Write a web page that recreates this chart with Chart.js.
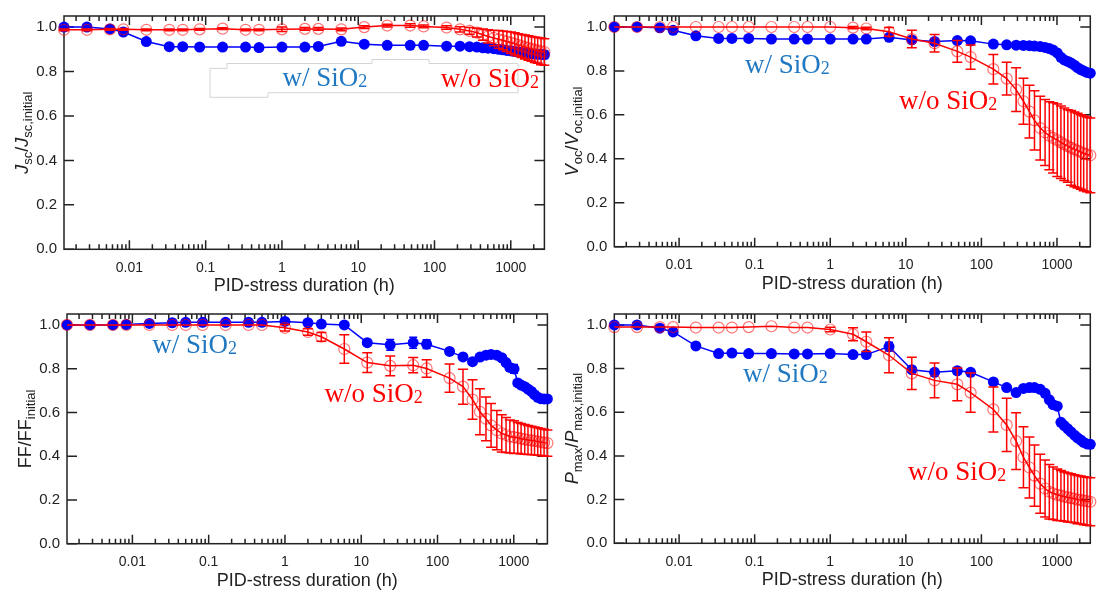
<!DOCTYPE html>
<html>
<head>
<meta charset="utf-8">
<script src="https://cdn.jsdelivr.net/npm/chart.js@4.4.1/dist/chart.umd.min.js"></script>
<style>
  html, body { margin: 0; padding: 0; background: #fff; }
  #wrap { position: relative; width: 1097px; height: 598px; overflow: hidden; }
  canvas { position: absolute; }
</style>
</head>
<body>
<div id="wrap">
  <canvas id="jsc" width="560" height="298" style="left:0;top:0"></canvas>
  <canvas id="voc" width="537" height="298" style="left:560px;top:0"></canvas>
  <canvas id="ff" width="560" height="300" style="left:0;top:298px"></canvas>
  <canvas id="pmax" width="537" height="300" style="left:560px;top:298px"></canvas>
</div>
<script>
// PID-stress time points (h)
const times = [0.0013889, 0.0027778, 0.0055556, 0.0083333, 0.0166667, 0.0333333, 0.05, 0.0833333, 0.1666667, 0.3333333, 0.5,
  1, 2, 3, 6, 12, 24, 48, 72, 144,
  216, 288, 360, 432, 504, 600, 696, 792, 888, 1008, 1128, 1248, 1392, 1536, 1704, 1872, 2064, 2256, 2496, 2760];

// Jsc / Jsc,initial
const jscW = [1.0, 1.0, 0.992, 0.978, 0.935, 0.912, 0.912, 0.91, 0.91, 0.91, 0.908,
  0.91, 0.91, 0.913, 0.936, 0.923, 0.918, 0.918, 0.918, 0.914,
  0.914, 0.912, 0.91, 0.907, 0.905, 0.903, 0.9, 0.898, 0.895, 0.893, 0.89, 0.888, 0.886, 0.884, 0.882, 0.88, 0.879, 0.878, 0.877, 0.876];
const jscWErr = [0, 0, 0, 0, 0, 0, 0, 0, 0, 0, 0,
  0, 0, 0, 0, 0.004, 0.004, 0.004, 0.004, 0.005,
  0.006, 0.006, 0.007, 0.008, 0.008, 0.009, 0.01, 0.01, 0.011, 0.012, 0.012, 0.013, 0.014, 0.014, 0.015, 0.015, 0.016, 0.016, 0.017, 0.017];
const jscWo = [0.988, 0.988, 0.99, 0.99, 0.988, 0.988, 0.988, 0.99, 0.993, 0.988, 0.988,
  0.99, 0.992, 0.992, 0.99, 1.0, 1.007, 1.007, 1.003, 0.998,
  0.99, 0.983, 0.975, 0.966, 0.958, 0.951, 0.945, 0.94, 0.935, 0.93, 0.925, 0.92, 0.915, 0.91, 0.906, 0.902, 0.898, 0.895, 0.891, 0.888];
const jscWoErr = [0.004, 0.004, 0.004, 0.004, 0.004, 0.004, 0.004, 0.004, 0.004, 0.004, 0.004,
  0.01, 0.006, 0.006, 0.006, 0.006, 0.006, 0.008, 0.006, 0.008,
  0.012, 0.015, 0.02, 0.025, 0.03, 0.035, 0.04, 0.042, 0.045, 0.048, 0.05, 0.05, 0.052, 0.054, 0.055, 0.056, 0.057, 0.058, 0.06, 0.06];

// Voc / Voc,initial
const vocW = [1.0, 1.0, 0.996, 0.985, 0.96, 0.948, 0.948, 0.948, 0.945, 0.945, 0.945,
  0.945, 0.945, 0.945, 0.953, 0.941, 0.934, 0.938, 0.937, 0.922,
  0.919, 0.917, 0.916, 0.915, 0.913, 0.911, 0.907, 0.902, 0.895, 0.882, 0.862, 0.85, 0.843, 0.836, 0.826, 0.815, 0.806, 0.8, 0.793, 0.79];
const vocWErr = [0, 0, 0, 0, 0, 0, 0, 0, 0, 0, 0,
  0, 0, 0, 0.005, 0.012, 0.008, 0.006, 0.006, 0.006,
  0.005, 0.005, 0.005, 0.005, 0.005, 0.005, 0.005, 0.005, 0.005, 0.005, 0.005, 0.005, 0.005, 0.005, 0.005, 0.005, 0.005, 0.005, 0.005, 0.005];
const vocWo = [1.0, 1.0, 1.0, 1.0, 1.0, 1.0, 1.0, 1.0, 1.0, 1.0, 1.0,
  1.0, 0.997, 0.993, 0.978, 0.945, 0.926, 0.889, 0.863, 0.808,
  0.765, 0.715, 0.662, 0.615, 0.575, 0.54, 0.52, 0.505, 0.495, 0.485, 0.475, 0.466, 0.458, 0.45, 0.443, 0.437, 0.431, 0.425, 0.42, 0.416];
const vocWoErr = [0, 0, 0, 0, 0, 0, 0, 0, 0, 0, 0,
  0, 0.005, 0.006, 0.02, 0.04, 0.04, 0.05, 0.055, 0.067,
  0.075, 0.1, 0.105, 0.12, 0.135, 0.145, 0.15, 0.155, 0.16, 0.165, 0.165, 0.165, 0.165, 0.17, 0.17, 0.17, 0.17, 0.17, 0.17, 0.17];

// FF / FF,initial
const ffW = [1.0, 1.0, 1.0, 1.002, 1.007, 1.01, 1.012, 1.012, 1.012, 1.012, 1.012,
  1.016, 1.01, 1.004, 1.0, 0.919, 0.909, 0.919, 0.912, 0.879,
  0.854, 0.832, 0.853, 0.862, 0.865, 0.862, 0.85, 0.828, 0.806, 0.799, 0.735, 0.725, 0.718, 0.707, 0.696, 0.681, 0.669, 0.663, 0.662, 0.662];
const ffWErr = [0, 0, 0, 0, 0, 0, 0, 0, 0, 0, 0,
  0.008, 0.005, 0.005, 0.005, 0.01, 0.025, 0.025, 0.02, 0.01,
  0.008, 0.008, 0.008, 0.01, 0.01, 0.01, 0.012, 0.012, 0.015, 0.02, 0.015, 0.012, 0.012, 0.012, 0.012, 0.012, 0.012, 0.01, 0.01, 0.01];
const ffWo = [1.0, 1.0, 1.0, 1.0, 1.0, 1.0, 1.0, 1.0, 1.0, 1.0, 1.0,
  0.987, 0.968, 0.946, 0.89, 0.828, 0.813, 0.816, 0.801, 0.757,
  0.718, 0.659, 0.603, 0.571, 0.541, 0.519, 0.504, 0.497, 0.49, 0.487, 0.484, 0.48, 0.477, 0.474, 0.472, 0.47, 0.467, 0.465, 0.462, 0.46];
const ffWoErr = [0, 0, 0, 0, 0, 0, 0, 0, 0, 0, 0,
  0.015, 0.015, 0.02, 0.065, 0.045, 0.045, 0.035, 0.04, 0.065,
  0.08, 0.09, 0.105, 0.1, 0.1, 0.09, 0.085, 0.08, 0.075, 0.075, 0.07, 0.07, 0.068, 0.066, 0.065, 0.064, 0.063, 0.062, 0.061, 0.06];

// Pmax / Pmax,initial
const pmaxW = [1.0, 1.0, 0.985, 0.968, 0.904, 0.869, 0.871, 0.869, 0.869, 0.867, 0.867,
  0.869, 0.864, 0.864, 0.901, 0.795, 0.783, 0.79, 0.783, 0.739,
  0.713, 0.69, 0.709, 0.713, 0.713, 0.705, 0.687, 0.657, 0.635, 0.628, 0.554, 0.539, 0.524, 0.51, 0.495, 0.483, 0.473, 0.462, 0.455, 0.453];
const pmaxWErr = [0, 0, 0, 0, 0, 0, 0, 0, 0, 0, 0,
  0, 0, 0, 0.02, 0.01, 0.01, 0.015, 0.01, 0.008,
  0.008, 0.008, 0.008, 0.008, 0.008, 0.008, 0.008, 0.008, 0.008, 0.008, 0.008, 0.008, 0.008, 0.008, 0.008, 0.008, 0.008, 0.008, 0.008, 0.008];
const pmaxWo = [0.99, 0.99, 0.99, 0.99, 0.988, 0.988, 0.988, 0.99, 0.994, 0.988, 0.988,
  0.979, 0.957, 0.923, 0.861, 0.778, 0.746, 0.728, 0.69, 0.613,
  0.542, 0.468, 0.394, 0.347, 0.31, 0.273, 0.251, 0.236, 0.229, 0.222, 0.218, 0.214, 0.21, 0.207, 0.204, 0.2, 0.198, 0.195, 0.193, 0.19];
const pmaxWoErr = [0, 0, 0, 0, 0, 0, 0, 0, 0, 0, 0,
  0.01, 0.03, 0.045, 0.08, 0.074, 0.08, 0.075, 0.09, 0.103,
  0.122, 0.13, 0.14, 0.14, 0.14, 0.135, 0.13, 0.125, 0.12, 0.118, 0.115, 0.113, 0.112, 0.111, 0.11, 0.11, 0.11, 0.11, 0.11, 0.11];

const yTicks = [0, 0.2, 0.4, 0.6, 0.8, 1.0];
const xTicks = [0.01, 0.1, 1, 10, 100, 1000];
const xMin = 0.0013889, xMax = 2760, yMax = 1.05;

const RED = '#ff0000', BLUE = '#0000ff', INK = '#222', NOTE_BLUE = '#1f78c1';
const XH = 48;

Chart.defaults.font.family = "'Liberation Sans', Arial, sans-serif";
Chart.defaults.color = INK;

function pts(vals) {
  return times.map((t, i) => ({ x: t, y: vals[i] }));
}

// error bars, drawn right after their own dataset
const errorBars = {
  id: 'errorBars',
  afterDatasetDraw(chart, args) {
    const ds = chart.data.datasets[args.index];
    if (!ds.errors) return;
    const y = chart.scales.y, ctx = chart.ctx, c = ds.capWidth;
    ctx.save();
    ctx.strokeStyle = ds.borderColor;
    ctx.lineWidth = 1.5;
    ctx.beginPath();
    args.meta.data.forEach((p, i) => {
      const e = ds.errors[i];
      if (!e) return;
      const v = ds.data[i].y;
      const y1 = y.getPixelForValue(v + e), y2 = y.getPixelForValue(v - e);
      ctx.moveTo(p.x, y1); ctx.lineTo(p.x, y2);
      ctx.moveTo(p.x - c, y1); ctx.lineTo(p.x + c, y1);
      ctx.moveTo(p.x - c, y2); ctx.lineTo(p.x + c, y2);
    });
    ctx.stroke();
    ctx.restore();
  }
};

// box with inward ticks on all four sides
const frame = {
  id: 'frame',
  beforeDatasetsDraw(chart) {
    const { ctx, chartArea: a, scales: { x, y } } = chart;
    const box = chart.options.plugins.labels.box;
    ctx.save();
    if (box) {
      ctx.fillStyle = '#fff';
      ctx.strokeStyle = '#d4d4d4';
      ctx.lineWidth = 1;
      ctx.beginPath();
      box.forEach(([px, py], i) => i ? ctx.lineTo(px, py) : ctx.moveTo(px, py));
      ctx.closePath();
      ctx.fill();
      ctx.stroke();
    }
    ctx.strokeStyle = INK;
    ctx.lineWidth = 1.5;
    ctx.strokeRect(a.left, a.top, a.right - a.left, a.bottom - a.top);
    ctx.beginPath();
    yTicks.forEach(v => {
      const py = y.getPixelForValue(v);
      ctx.moveTo(a.left, py); ctx.lineTo(a.left + 10, py);
      ctx.moveTo(a.right, py); ctx.lineTo(a.right - 10, py);
    });
    for (let n = -3; n <= 3; n++) {
      for (let k = 1; k <= 9; k++) {
        const v = k * Math.pow(10, n);
        if (v < xMin || v > xMax) continue;
        const px = x.getPixelForValue(v), len = k === 1 ? 9 : 5;
        ctx.moveTo(px, a.bottom); ctx.lineTo(px, a.bottom - len);
        ctx.moveTo(px, a.top); ctx.lineTo(px, a.top + len);
      }
    }
    ctx.stroke();
    ctx.restore();
  }
};

function drawYTitle(ctx, parts, cx, cy) {
  const fonts = {
    i: "italic 18px 'Liberation Sans'",
    n: "18px 'Liberation Sans'",
    s: "13px 'Liberation Sans'"
  };
  ctx.save();
  ctx.translate(cx, cy);
  ctx.rotate(-Math.PI / 2);
  ctx.fillStyle = INK;
  let total = 0;
  parts.forEach(([t, k]) => { ctx.font = fonts[k]; total += ctx.measureText(t).width; });
  let x = -total / 2;
  parts.forEach(([t, k]) => {
    ctx.font = fonts[k];
    ctx.fillText(t, x, k === 's' ? 10.5 : 6.5);
    x += ctx.measureText(t).width;
  });
  ctx.restore();
}

function drawNote(ctx, [text, color, x, y]) {
  ctx.save();
  ctx.fillStyle = color;
  ctx.font = "27px 'Liberation Serif'";
  ctx.fillText(text, x, y);
  const w = ctx.measureText(text).width;
  ctx.font = "18px 'Liberation Serif'";
  ctx.fillText('2', x + w, y + 1);
  ctx.restore();
}

const labels = {
  id: 'labels',
  afterDraw(chart, args, opts) {
    const a = chart.chartArea;
    drawYTitle(chart.ctx, opts.title, a.left - 43, (a.top + a.bottom) / 2);
    opts.notes.forEach(n => drawNote(chart.ctx, n));
  }
};

const panels = [
  {
    id: 'jsc', w: jscW, wErr: jscWErr, wo: jscWo, woErr: jscWoErr,
    size: [560, 298], area: [64, 544.4, 13.3, 249.3],
    title: [['J', 'i'], ['sc', 's'], ['/', 'n'], ['J', 'i'], ['sc,initial', 's']],
    notes: [['w/ SiO', NOTE_BLUE, 282.6, 85.5], ['w/o SiO', RED, 440.8, 87]],
    box: [[210, 68.4], [227, 68.4], [227, 63.5], [372, 63.5], [372, 59.5], [429, 59.5], [429, 63.5],
      [518, 63.5], [518, 92.7], [268, 92.7], [268, 97.3], [210, 97.3]]
  },
  {
    id: 'voc', w: vocW, wErr: vocWErr, wo: vocWo, woErr: vocWoErr,
    size: [537, 298], area: [54.3, 534.7, 10.45, 246.7],
    title: [['V', 'i'], ['oc', 's'], ['/', 'n'], ['V', 'i'], ['oc,initial', 's']],
    notes: [['w/ SiO', NOTE_BLUE, 185, 73], ['w/o SiO', RED, 339, 108.7]]
  },
  {
    id: 'ff', w: ffW, wErr: ffWErr, wo: ffWo, woErr: ffWoErr,
    size: [560, 300], area: [67, 547.4, 6.3, 245.7],
    title: [['FF', 'n'], ['/', 'n'], ['FF', 'n'], ['initial', 's']],
    notes: [['w/ SiO', NOTE_BLUE, 152.3, 55.2], ['w/o SiO', RED, 324.4, 103.8]]
  },
  {
    id: 'pmax', w: pmaxW, wErr: pmaxWErr, wo: pmaxWo, woErr: pmaxWoErr,
    size: [537, 300], area: [54.3, 534.7, 6.9, 245.3],
    title: [['P', 'i'], ['max', 's'], ['/', 'n'], ['P', 'i'], ['max,initial', 's']],
    notes: [['w/ SiO', NOTE_BLUE, 183, 84.3], ['w/o SiO', RED, 348, 182]]
  }
];

panels.forEach(p => {
  const [W, H] = p.size;
  const [l, r, t, b] = p.area;
  new Chart(document.getElementById(p.id), {
    type: 'line',
    data: {
      datasets: [
        {
          label: 'w/o SiO2',
          data: pts(p.wo),
          errors: p.woErr,
          capWidth: 5,
          borderColor: RED,
          borderWidth: 1.5,
          pointRadius: 5.5,
          pointBackgroundColor: 'rgba(255,255,255,0)',
          pointBorderColor: 'rgba(255,0,0,0.55)',
          pointBorderWidth: 1.2,
          clip: false,
          order: 0
        },
        {
          label: 'w/ SiO2',
          data: pts(p.w),
          errors: p.wErr,
          capWidth: 4,
          borderColor: BLUE,
          borderWidth: 1.5,
          pointRadius: 5.5,
          pointBackgroundColor: BLUE,
          pointBorderWidth: 0,
          clip: false,
          order: 1
        }
      ]
    },
    options: {
      responsive: false,
      animation: false,
      devicePixelRatio: 1,
      layout: { padding: { left: 0, top: t, right: W - r, bottom: H - b - XH } },
      plugins: {
        legend: { display: false },
        tooltip: { enabled: false },
        labels: { title: p.title, notes: p.notes, box: p.box }
      },
      scales: {
        x: {
          type: 'logarithmic',
          min: xMin,
          max: xMax,
          bounds: 'data',
          grid: { display: false, drawTicks: false, tickLength: 0 },
          border: { display: false },
          afterBuildTicks: s => { s.ticks = xTicks.map(v => ({ value: v })); },
          afterFit: s => { s.height = XH; },
          ticks: {
            autoSkip: false,
            maxRotation: 0,
            padding: 10,
            font: { size: 14 },
            callback: v => String(v)
          },
          title: {
            display: true,
            text: 'PID-stress duration (h)',
            font: { size: 18 },
            padding: 0
          }
        },
        y: {
          min: 0,
          max: yMax,
          bounds: 'data',
          grid: { display: false, drawTicks: false, tickLength: 0 },
          border: { display: false },
          afterBuildTicks: s => { s.ticks = yTicks.map(v => ({ value: v })); },
          afterFit: s => { s.width = l; },
          ticks: {
            padding: 7,
            font: { size: 15 },
            callback: v => v.toFixed(1)
          }
        }
      }
    },
    plugins: [frame, errorBars, labels]
  });
});
</script>
</body>
</html>
